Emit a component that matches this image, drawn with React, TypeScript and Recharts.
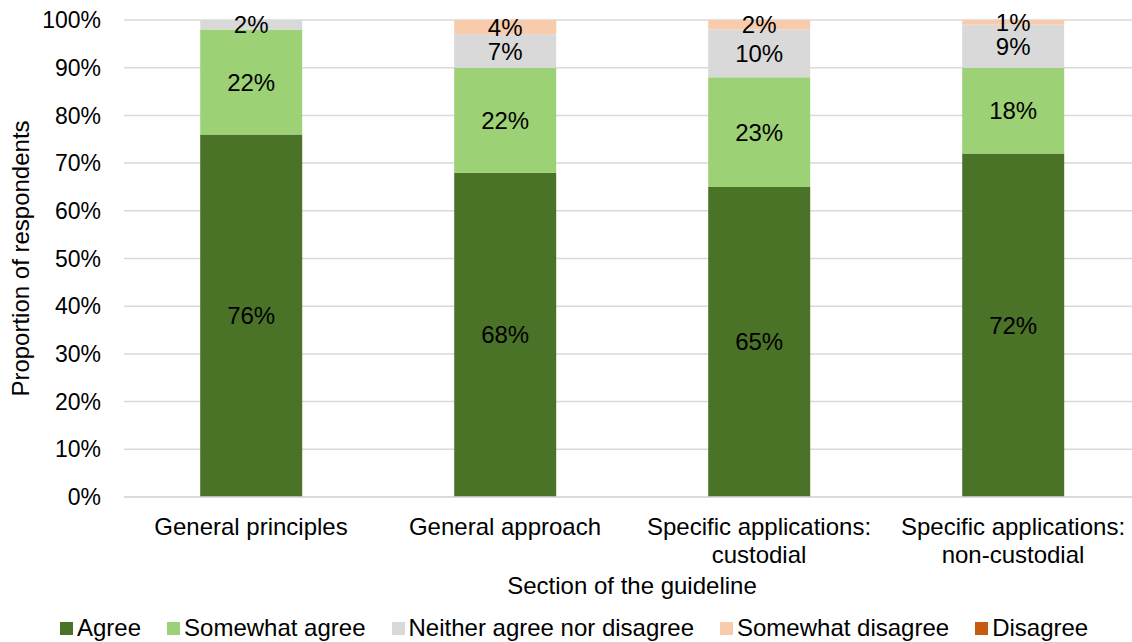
import React from 'react';
import { BarChart, Bar, XAxis, YAxis, CartesianGrid, LabelList, Label } from 'recharts';

const categories = [
  'General principles',
  'General approach',
  'Specific applications:\ncustodial',
  'Specific applications:\nnon-custodial',
];
const agree = [76, 68, 65, 72];
const somewhatAgree = [22, 22, 23, 18];
const neither = [2, 7, 10, 9];
const somewhatDisagree = [0, 4, 2, 1];
const disagree = [0, 0, 0, 0];
const yTicks = [0, 10, 20, 30, 40, 50, 60, 70, 80, 90, 100];

const series = [
  { key: 'agree', name: 'Agree', color: '#4a7327' },
  { key: 'somewhatAgree', name: 'Somewhat agree', color: '#9dd175' },
  { key: 'neither', name: 'Neither agree nor disagree', color: '#d9d9d9' },
  { key: 'somewhatDisagree', name: 'Somewhat disagree', color: '#f8cbad' },
  { key: 'disagree', name: 'Disagree', color: '#c55a11' },
];

const data = categories.map((c, i) => ({
  name: c,
  agree: agree[i],
  somewhatAgree: somewhatAgree[i],
  neither: neither[i],
  somewhatDisagree: somewhatDisagree[i],
  disagree: disagree[i],
}));

const FONT = '"Liberation Sans", Arial, sans-serif';
const FS = 24;

// multi-line category ticks
function CatTick(props: any) {
  const { x, y, payload } = props;
  const lines = String(payload.value).split('\n');
  return (
    <g transform={`translate(${x},${y})`}>
      {lines.map((l, i) => (
        <text key={i} x={0} y={i * 28} dy={30} textAnchor="middle" fill="#000" fontSize={FS} fontFamily={FONT}>
          {l}
        </text>
      ))}
    </g>
  );
}

const pct = (v: any) => (v ? `${v}%` : '');

export default function App() {
  return (
    <div style={{ position: 'absolute', left: 0, top: 0, width: 1132, height: 642, overflow: 'hidden', background: '#fff' }}>
      <BarChart
        width={1140}
        height={642}
        data={data}
        margin={{ top: 20, right: 0, bottom: 0, left: 0 }}
        barCategoryGap="30%"
        style={{ fontFamily: FONT }}
      >
        <CartesianGrid vertical={false} stroke="#d9d9d9" strokeWidth={1.5} />
        <XAxis
          dataKey="name"
          height={145}
          interval={0}
          tickLine={false}
          axisLine={{ stroke: '#d9d9d9', strokeWidth: 1.5 }}
          tick={<CatTick />}
        >
          <Label
            value="Section of the guideline"
            position="insideTop"
            offset={80}
            style={{ fontSize: FS, fill: '#000', fontFamily: FONT }}
          />
        </XAxis>
        <YAxis
          width={124}
          domain={[0, 100]}
          allowDataOverflow
          ticks={yTicks}
          tickFormatter={(v) => `${v}%`}
          tickLine={false}
          axisLine={false}
          tickSize={6}
          tickMargin={17}
          tick={{ fontSize: 23, fill: '#000', fontFamily: FONT }}
        >
          <Label
            content={(p: any) => {
              const vb = p.viewBox;
              const cy = vb.y + vb.height / 2;
              return (
                <text
                  x={20}
                  y={cy}
                  transform={`rotate(-90, 20, ${cy})`}
                  textAnchor="middle"
                  dominantBaseline="central"
                  fontSize={FS}
                  fontFamily={FONT}
                  fill="#000"
                >
                  Proportion of respondents
                </text>
              );
            }}
          />
        </YAxis>
        {series.map((s) => (
          <Bar key={s.key} dataKey={s.key} name={s.name} stackId="a" fill={s.color} isAnimationActive={false}>
            <LabelList
              dataKey={s.key}
              position="center"
              formatter={pct}
              style={{ fontSize: FS, fill: '#000', fontFamily: FONT }}
            />
          </Bar>
        ))}
      </BarChart>
      <div
        style={{
          position: 'absolute',
          top: 614,
          left: 60,
          display: 'flex',
          fontFamily: FONT,
          fontSize: FS,
          color: '#000',
          lineHeight: '28px',
          whiteSpace: 'nowrap',
        }}
      >
        {series.map((s) => (
          <div key={s.key} style={{ display: 'flex', alignItems: 'center', marginRight: 26 }}>
            <span style={{ width: 13, height: 13, background: s.color, display: 'inline-block', marginRight: 4 }} />
            <span>{s.name}</span>
          </div>
        ))}
      </div>
    </div>
  );
}
